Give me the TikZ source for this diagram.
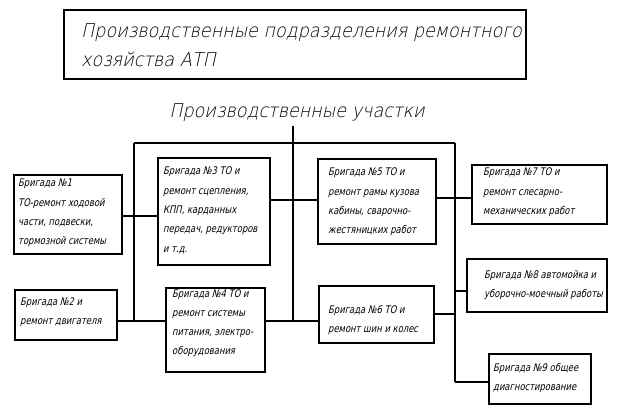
\documentclass[tikz,border=0pt]{standalone}
\usepackage{fontspec}
\newfontfamily\gostthin[FakeSlant=0.22,FakeStretch=0.925]{DejaVu Sans ExtraLight}
\newfontfamily\gostbox[FakeSlant=0.22,FakeStretch=0.8]{DejaVu Sans}
\begin{document}
\begin{tikzpicture}[x=1pt,y=-1pt]
\tikzset{
  box/.style={draw, line width=2pt, inner sep=0pt, anchor=north west},
  lbl/.style={anchor=north west, inner sep=0pt, align=left,
              font=\gostbox\fontsize{10.5}{19.3}\selectfont},
  ttl/.style={inner sep=0pt, font=\gostthin\fontsize{19}{29}\selectfont},
  wire/.style={line width=2pt},
}
\useasboundingbox (0,0) rectangle (617,418);

% title
\node[box, line width=2.2pt, minimum width=462pt, minimum height=69pt] (tb) at (63,9) {};
\node[ttl, anchor=north west, align=left] (tt) at (81,23)
  {Производственные подразделения ремонтного\\хозяйства АТП};
\node[ttl, anchor=base] (pu) at (297,117) {Производственные участки};

% boxes
\node[box, minimum width=108pt, minimum height=79pt]  (b1) at (13,174)  {};
\node[box, minimum width=102pt, minimum height=50pt]  (b2) at (14,289)  {};
\node[box, minimum width=112pt, minimum height=107pt] (b3) at (157,157) {};
\node[box, minimum width=99pt,  minimum height=84pt]  (b4) at (165,287) {};
\node[box, minimum width=118pt, minimum height=85pt]  (b5) at (317,158) {};
\node[box, minimum width=115pt, minimum height=57pt]  (b6) at (318,285) {};
\node[box, minimum width=135pt, minimum height=59pt]  (b7) at (471,164) {};
\node[box, minimum width=140pt, minimum height=53pt]  (b8) at (466,258) {};
\node[box, minimum width=102pt, minimum height=50pt]  (b9) at (488,353) {};

% texts
\node[lbl] (t1) at (18,179)  {Бригада №1\\ТО-ремонт ходовой\\части, подвески,\\тормозной системы};
\node[lbl] (t2) at (20,297)  {Бригада №2 и\\ремонт двигателя};
\node[lbl] (t3) at (163,167) {Бригада №3 ТО и\\ремонт сцепления,\\КПП, карданных\\передач, редукторов\\и т.д.};
\node[lbl] (t4) at (172,289) {Бригада №4 ТО и\\ремонт системы\\питания, электро-\\оборудования};
\node[lbl] (t5) at (328,168) {Бригада №5 ТО и\\ремонт рамы кузова\\кабины, сварочно-\\жестяницких работ};
\node[lbl] (t6) at (328,305) {Бригада №6 ТО и\\ремонт шин и колес};
\node[lbl] (t7) at (483,168) {Бригада №7 ТО и\\ремонт слесарно-\\механических работ};
\node[lbl] (t8) at (484,270) {Бригада №8 автомойка и\\уборочно-моечный работы};
\node[lbl] (t9) at (493,363) {Бригада №9 общее\\диагностирование};

% junction coordinates
\coordinate (m0)  at (293,126);
\coordinate (jm)  at (293,143);
\coordinate (jl)  at (134,143);
\coordinate (jr)  at (455,143);
\coordinate (jlb) at (134,321);
\coordinate (jmb) at (293,321);
\coordinate (jrb) at (455,382);
\coordinate (r200) at (0,200);
\coordinate (r198) at (0,198);
\coordinate (r216) at (0,216);
\coordinate (r321) at (0,321);
\coordinate (r314) at (0,314);
\coordinate (r291) at (0,291);

% connectors
\draw[wire] (m0) -- (jmb);
\draw[wire] (jl) -- (jr);
\draw[wire] (jl) -- (jlb);
\draw[wire] (jr) -- (jrb);
\draw[wire] (b1.east |- r216) -- (b3.west |- r216);
\draw[wire] (b3.east |- r200) -- (b5.west |- r200);
\draw[wire] (b5.east |- r198) -- (b7.west |- r198);
\draw[wire] (b2.east |- r321) -- (b4.west |- r321);
\draw[wire] (b4.east |- r321) -- (b6.west |- r321);
\draw[wire] (b6.east |- r314) -- (jr |- r314);
\draw[wire] (jr |- r291) -- (b8.west |- r291);
\draw[wire] (jrb) -- (b9.west |- jrb);
\end{tikzpicture}
\end{document}
